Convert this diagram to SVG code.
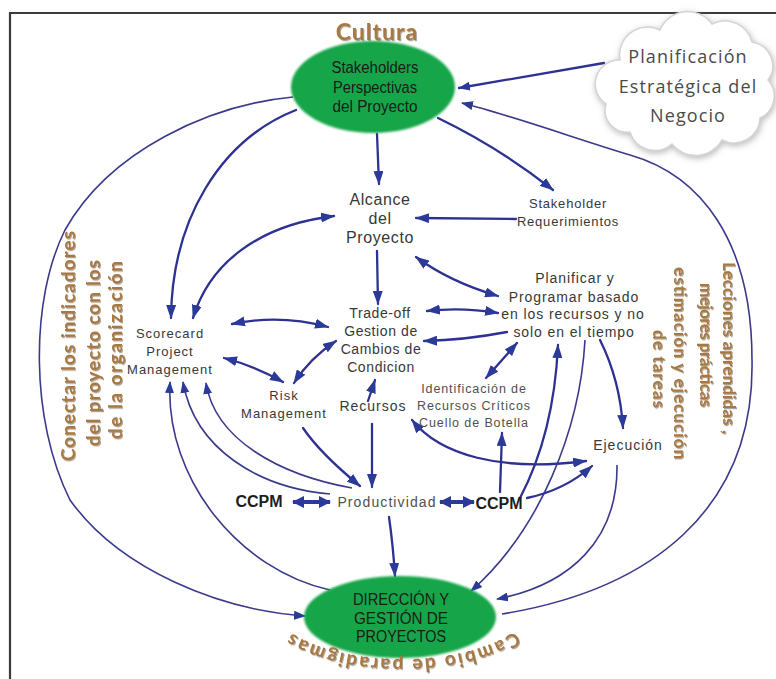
<svg xmlns="http://www.w3.org/2000/svg" width="776" height="679" viewBox="0 0 776 679">
  <defs>
    <style>
      .lbl { font-family: "Liberation Sans", Arial, sans-serif; fill: #383838; text-anchor: middle; }
      .soft { fill: #505050; }
      .bold { font-weight: bold; fill: #1e1e1e; }
      .oval-txt { font-family: "Liberation Sans", Arial, sans-serif; fill: #1a1a1a; text-anchor: middle; }
      .tan { font-family: Lato, "Open Sans", sans-serif; font-weight: bold; fill: #a87842; text-anchor: middle; }
      .cloud-txt { font-family: "Open Sans", "Liberation Sans", sans-serif; fill: #4a4a4a; text-anchor: middle; font-size: 18px; letter-spacing: 1.1px; }
      .c { fill: none; stroke: #2e3192; stroke-width: 2.3; stroke-linecap: round; }
      .thin { fill: none; stroke: #3a3a8c; stroke-width: 1.6; }
      .fat { fill: none; stroke: #2b3a98; stroke-width: 4; }
      .e { marker-end: url(#ah); }
      .b { marker-start: url(#ah); marker-end: url(#ah); }
      .es { marker-end: url(#ahs); }
      .bf { marker-start: url(#ahf); marker-end: url(#ahf); }
    </style>
    <marker id="ah" viewBox="0 0 14 10" refX="13" refY="5" markerWidth="14" markerHeight="10" markerUnits="userSpaceOnUse" orient="auto-start-reverse">
      <path d="M0,0 L14,5 L0,10 z" fill="#2b3a98"/>
    </marker>
    <marker id="ahs" viewBox="0 0 12 9" refX="11" refY="4.5" markerWidth="12" markerHeight="9" markerUnits="userSpaceOnUse" orient="auto-start-reverse">
      <path d="M0,0 L12,4.5 L0,9 z" fill="#2b3a98"/>
    </marker>
    <marker id="ahf" viewBox="0 0 12 12" refX="11" refY="6" markerWidth="12" markerHeight="12" markerUnits="userSpaceOnUse" orient="auto-start-reverse">
      <path d="M0,0 L12,6 L0,12 z" fill="#2b3a98"/>
    </marker>
    <filter id="tshadow" x="-10%" y="-20%" width="120%" height="140%">
      <feDropShadow dx="1" dy="1.2" stdDeviation="0.7" flood-color="#5a4630" flood-opacity="0.5"/>
    </filter>
    <filter id="cshadow" x="-15%" y="-15%" width="130%" height="130%">
      <feDropShadow dx="1" dy="2" stdDeviation="3" flood-color="#8a8a8a" flood-opacity="0.6"/>
    </filter>
    <filter id="softedge" x="-5%" y="-5%" width="110%" height="110%">
      <feGaussianBlur stdDeviation="0.8"/>
    </filter>
    <!-- baseline for the curved caption under the lower oval (runs right to left) -->
    <path id="arcBottom" d="M 522 625 A 132 58.2 0 0 1 284 627"/>
  </defs>

  <rect width="776" height="679" fill="#ffffff"/>
  <!-- page frame -->
  <path d="M10,679 V13 H776" fill="none" stroke="#3a3a3a" stroke-width="2.2"/>

  <!-- connectors -->
  <g id="connectors">
    <!-- outer arcs -->
    <path class="thin es" d="M 293 97 C 210 105, 110 150, 65 230 C 30 300, 30 420, 70 500 C 120 570, 220 610, 305 616"/>
    <path class="thin es" d="M 502 614 C 650 590, 755 510, 752 360 C 752 240, 700 175, 630 155 C 580 140, 510 115, 462 103"/>
    <path class="c es" d="M 604 63 L 459 88"/>

    <!-- from the upper oval -->
    <path class="c e" d="M 377 134 L 379 184"/>
    <path class="c e" d="M 438 118 Q 500 148 553 190"/>
    <path class="c e" d="M 296 110 C 220 140, 172 220, 171 318"/>

    <!-- around Alcance -->
    <path class="c e" d="M 516 219 L 416 218"/>
    <path class="c b" d="M 416 257 Q 450 282 498 296"/>
    <path class="c e" d="M 377 251 L 378 304"/>
    <path class="c b" d="M 193 318 C 210 262, 260 225, 334 216"/>

    <!-- around Trade-off -->
    <path class="c b" d="M 232 324 Q 280 314 328 327"/>
    <path class="c b" d="M 224 358 Q 255 366 283 382"/>
    <path class="c b" d="M 294 383 Q 310 358 336 341"/>
    <path class="c e" d="M 368 401 L 375 380"/>
    <path class="c b" d="M 427 311 Q 462 307 498 313"/>
    <path class="c e" d="M 507 332 Q 465 340 424 341"/>
    <path class="c b" d="M 517 343 L 486 378"/>

    <!-- around Ejecucion -->
    <path class="c e" d="M 600 340 Q 620 380 623 428"/>
    <path class="c b" d="M 412 420 C 440 455, 500 472, 586 461"/>
    <path class="c e" d="M 527 498 Q 565 490 592 466"/>

    <!-- from the right CCPM -->
    <path class="c e" d="M 500 492 L 502 433"/>
    <path class="c e" d="M 520 498 C 540 460, 555 410, 558 345"/>

    <!-- into the lower oval -->
    <path class="thin es" d="M 585 340 C 580 430, 540 530, 471 591"/>
    <path class="thin es" d="M 617 465 C 618 540, 570 585, 497 599"/>
    <path class="c e" d="M 389 517 Q 393 545 395 576"/>

    <!-- back to Scorecard -->
    <path class="thin es" d="M 330 590 C 240 570, 165 480, 170 382"/>
    <path class="thin es" d="M 330 494 C 260 488, 195 450, 183 382"/>
    <path class="thin es" d="M 352 488 C 280 475, 215 440, 206 383"/>

    <!-- into Productividad -->
    <path class="c e" d="M 303 428 C 318 450, 338 468, 360 486"/>
    <path class="c e" d="M 372 424 L 372 487"/>
    <path class="fat bf" d="M 293 502 L 330 502"/>
    <path class="fat bf" d="M 440 502 L 474 502"/>
  </g>

  <!-- cloud -->
  <g id="planificacion">
    <path d="M 620 60 A 28 28 0 0 1 660 30 A 30 30 0 0 1 712 24 A 28 28 0 0 1 752 42 A 24 24 0 0 1 768 80 A 24 24 0 0 1 760 118 A 26 26 0 0 1 722 140 A 30 30 0 0 1 672 144 A 26 26 0 0 1 630 132 A 22 22 0 0 1 606 104 A 24 24 0 0 1 620 60 Z" fill="#ffffff" stroke="#d4d4d4" stroke-width="1.5" filter="url(#cshadow)"/>
    <text class="cloud-txt" x="688" y="63">Planificación</text>
    <text class="cloud-txt" x="688" y="93">Estratégica del</text>
    <text class="cloud-txt" x="688" y="122">Negocio</text>
  </g>

  <!-- upper oval -->
  <g id="stakeholders">
    <text class="tan" x="377" y="40" font-size="23" letter-spacing="1" filter="url(#tshadow)">Cultura</text>
    <ellipse cx="373" cy="87" rx="82" ry="46" fill="#16a64a" filter="url(#softedge)"/>
    <text class="oval-txt" x="375" y="73" font-size="16" textLength="87" lengthAdjust="spacingAndGlyphs">Stakeholders</text>
    <text class="oval-txt" x="375" y="93" font-size="16" textLength="84" lengthAdjust="spacingAndGlyphs">Perspectivas</text>
    <text class="oval-txt" x="375" y="112" font-size="16" textLength="85" lengthAdjust="spacingAndGlyphs">del Proyecto</text>
  </g>

  <!-- lower oval -->
  <g id="direccion">
    <ellipse cx="400" cy="617" rx="96" ry="41" fill="#16a64a" filter="url(#softedge)"/>
    <text class="oval-txt" x="401" y="605" font-size="16" textLength="96" lengthAdjust="spacingAndGlyphs">DIRECCIÓN Y</text>
    <text class="oval-txt" x="401" y="624" font-size="16" textLength="94" lengthAdjust="spacingAndGlyphs">GESTIÓN DE</text>
    <text class="oval-txt" x="401" y="642" font-size="16" textLength="90" lengthAdjust="spacingAndGlyphs">PROYECTOS</text>
    <text class="tan" font-size="19" filter="url(#tshadow)"><textPath href="#arcBottom" startOffset="50%" textLength="232">Cambio de paradigmas</textPath></text>
  </g>

  <g id="alcance">
    <text class="lbl" x="380" y="205" font-size="16" letter-spacing="0.6">Alcance</text>
    <text class="lbl" x="380" y="224" font-size="16" letter-spacing="0.6">del</text>
    <text class="lbl" x="380" y="243" font-size="16" letter-spacing="0.6">Proyecto</text>
  </g>

  <g id="requerimientos">
    <text class="lbl" x="568" y="208" font-size="13" letter-spacing="0.8">Stakeholder</text>
    <text class="lbl" x="568" y="226" font-size="13" letter-spacing="0.8">Requerimientos</text>
  </g>

  <g id="planificar">
    <text class="lbl" x="575" y="283" font-size="14" letter-spacing="0.9">Planificar y</text>
    <text class="lbl" x="574" y="302" font-size="14" letter-spacing="0.9">Programar basado</text>
    <text class="lbl" x="573" y="319" font-size="14" letter-spacing="0.9">en los recursos y no</text>
    <text class="lbl" x="574" y="337" font-size="14" letter-spacing="0.9">solo en el tiempo</text>
  </g>

  <g id="tradeoff">
    <text class="lbl" x="380" y="318" font-size="14" letter-spacing="0.6">Trade-off</text>
    <text class="lbl" x="381" y="336" font-size="14" letter-spacing="0.6">Gestion de</text>
    <text class="lbl" x="381" y="354" font-size="14" letter-spacing="0.6">Cambios de</text>
    <text class="lbl" x="381" y="372" font-size="14" letter-spacing="0.6">Condicion</text>
  </g>

  <g id="scorecard">
    <text class="lbl" x="170" y="338" font-size="13" letter-spacing="1">Scorecard</text>
    <text class="lbl" x="170" y="356" font-size="13" letter-spacing="1">Project</text>
    <text class="lbl" x="170" y="374" font-size="13" letter-spacing="1">Management</text>
  </g>

  <g id="risk">
    <text class="lbl" x="284" y="400" font-size="13" letter-spacing="1">Risk</text>
    <text class="lbl" x="284" y="418" font-size="13" letter-spacing="1">Management</text>
  </g>

  <g id="recursos">
    <text class="lbl" x="373" y="411" font-size="14" letter-spacing="1" fill="#2a2a2a">Recursos</text>
  </g>

  <g id="identificacion">
    <text class="lbl soft" x="474" y="393" font-size="12.5" letter-spacing="0.9">Identificación de</text>
    <text class="lbl soft" x="474" y="410" font-size="12.5" letter-spacing="0.9">Recursos Críticos</text>
    <text class="lbl soft" x="474" y="427" font-size="12.5" letter-spacing="0.9">Cuello de Botella</text>
  </g>

  <g id="ejecucion">
    <text class="lbl" x="628" y="450" font-size="14" letter-spacing="1">Ejecución</text>
  </g>

  <g id="ccpm-izq">
    <text class="lbl bold" x="259" y="507" font-size="16">CCPM</text>
  </g>
  <g id="productividad">
    <text class="lbl soft" x="387" y="507" font-size="14" letter-spacing="1.1">Productividad</text>
  </g>
  <g id="ccpm-der">
    <text class="lbl bold" x="499" y="509" font-size="16">CCPM</text>
  </g>

  <!-- side notes -->
  <g id="conectar" filter="url(#tshadow)">
    <text class="tan" font-size="19" transform="translate(75,346) rotate(-90)" textLength="230">Conectar los indicadores</text>
    <text class="tan" font-size="19" transform="translate(100,353) rotate(-90)" textLength="186">del proyecto con los</text>
    <text class="tan" font-size="19" transform="translate(122,350) rotate(-90)" textLength="178">de la organización</text>
  </g>
  <g id="lecciones" filter="url(#tshadow)">
    <text class="tan" font-size="17" transform="translate(723,348) rotate(90)" textLength="172">Lecciones aprendidas ,</text>
    <text class="tan" font-size="17" transform="translate(700,345) rotate(90)" textLength="124">mejores prácticas</text>
    <text class="tan" font-size="17" transform="translate(674,363) rotate(90)" textLength="192">estimación y ejecución</text>
    <text class="tan" font-size="17" transform="translate(653,369) rotate(90)" textLength="78">de tareas</text>
  </g>
</svg>
